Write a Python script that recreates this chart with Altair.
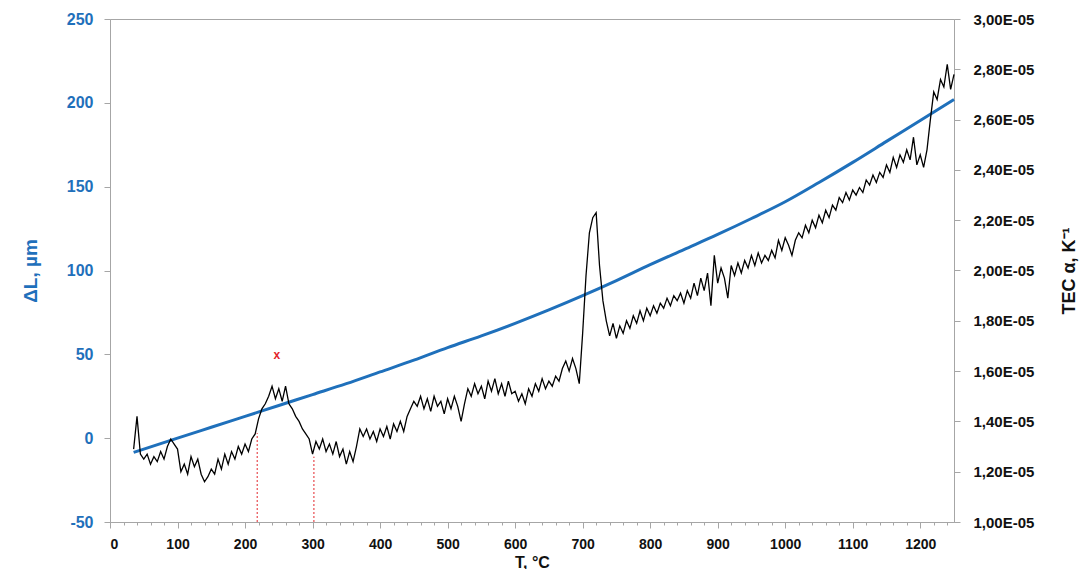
import altair as alt
import pandas as pd

# ---------------- data ----------------
# Blue curve: elongation ΔL (µm) vs temperature (°C)
T_DL = [35, 100, 150, 200, 250, 300, 350, 400, 450, 500, 550, 600, 650,
        700, 750, 800, 850, 900, 950, 1000, 1050, 1100, 1150, 1200, 1250]
DL = [-8.5, 0, 6.5, 13, 19.5, 26, 32.5, 39.5, 46.5, 54, 61, 68.5, 76.5,
      85, 94, 103.5, 112.5, 121.5, 131, 141, 152.5, 164.5, 177, 189.5, 202]

# Black curve: TEC α (in units of 1E-05 K^-1), sampled every 5 °C from 35 to 1250
T_TEC = list(range(35, 1255, 5))
TEC_E5 = [
    1.29, 1.42, 1.27,
    1.25, 1.27, 1.23, 1.26, 1.24, 1.28, 1.25, 1.30, 1.33, 1.31,
    1.29, 1.20, 1.23, 1.19, 1.26, 1.22, 1.25, 1.19, 1.16, 1.18,
    1.21, 1.19, 1.25, 1.21, 1.27, 1.23, 1.28, 1.25, 1.30, 1.27,
    1.31, 1.28, 1.33, 1.35, 1.41, 1.45, 1.47, 1.50, 1.54, 1.49,
    1.53, 1.48, 1.54, 1.47, 1.45, 1.42, 1.40, 1.37, 1.35, 1.33,
    1.27, 1.32, 1.29, 1.33, 1.28, 1.31, 1.27, 1.32, 1.26, 1.29,
    1.23, 1.28, 1.24, 1.30, 1.37, 1.34, 1.37, 1.33, 1.36, 1.32,
    1.37, 1.34, 1.38, 1.33, 1.39, 1.36, 1.40, 1.36, 1.42, 1.45,
    1.48, 1.46, 1.50, 1.45, 1.49, 1.44, 1.50, 1.46, 1.48, 1.43,
    1.49, 1.45, 1.50, 1.46, 1.40, 1.47, 1.53, 1.50, 1.55, 1.51,
    1.54, 1.49, 1.56, 1.52, 1.57, 1.51, 1.55, 1.50, 1.56, 1.51,
    1.52, 1.48, 1.51, 1.47, 1.53, 1.50, 1.55, 1.52, 1.57, 1.53,
    1.56, 1.54, 1.58, 1.56, 1.61, 1.64, 1.60, 1.65, 1.61, 1.55,
    1.75, 1.98, 2.15, 2.21, 2.23, 2.02, 1.88, 1.80, 1.74, 1.79,
    1.73, 1.78, 1.75, 1.80, 1.77, 1.82, 1.79, 1.84, 1.80, 1.85,
    1.82, 1.86, 1.83, 1.87, 1.85, 1.89, 1.86, 1.90, 1.88, 1.91,
    1.87, 1.92, 1.89, 1.95, 1.90, 1.97, 1.92, 1.99, 1.86, 2.06,
    1.95, 2.01, 1.97, 1.89, 2.02, 1.98, 2.03, 1.99, 2.04, 2.01,
    2.06, 2.02, 2.07, 2.03, 2.06, 2.04, 2.08, 2.05, 2.12, 2.08,
    2.13, 2.10, 2.06, 2.12, 2.15, 2.13, 2.18, 2.15, 2.20, 2.17,
    2.22, 2.19, 2.24, 2.21, 2.26, 2.24, 2.29, 2.27, 2.31, 2.28,
    2.32, 2.30, 2.33, 2.31, 2.36, 2.34, 2.38, 2.35, 2.39, 2.37,
    2.42, 2.39, 2.45, 2.41, 2.46, 2.43, 2.48, 2.44, 2.53, 2.42,
    2.46, 2.41, 2.48, 2.60, 2.71, 2.68, 2.76, 2.73, 2.82, 2.72,
    2.78,
]

# Red dotted markers (temperatures, top ends on the ΔL axis) and the red "x"
MARK_T = [218, 302]
MARK_BOTTOM = [-50, -50]
MARK_TOP = [3, -11]
X_LABEL_T = [247]
X_LABEL_DL = [49.5]
X_LABEL_TXT = ["x"]

# Axis tick values
X_MAJOR = [0, 100, 200, 300, 400, 500, 600, 700, 800, 900, 1000, 1100, 1200]
X_MINOR = list(range(0, 1260, 20))
Y_LEFT = [-50, 0, 50, 100, 150, 200, 250]
Y_RIGHT = [1.0e-5, 1.2e-5, 1.4e-5, 1.6e-5, 1.8e-5, 2.0e-5,
           2.2e-5, 2.4e-5, 2.6e-5, 2.8e-5, 3.0e-5]

# ---------------- chart ----------------
BLUE = "#1f70bb"
RED = "#e3262b"
GRAY = "#a6a6a6"
FONT = "Liberation Sans"
W, H = 844, 503

dl_df = pd.DataFrame({"T": T_DL, "DL": DL})
tec_df = pd.DataFrame({"T": T_TEC, "TEC": [v * 1e-5 for v in TEC_E5]})
mk_df = pd.DataFrame({"T": MARK_T, "y0": MARK_BOTTOM, "y1": MARK_TOP})
xl_df = pd.DataFrame({"T": X_LABEL_T, "DL": X_LABEL_DL, "txt": X_LABEL_TXT})

x_scale = alt.Scale(domain=[0, 1250], nice=False, zero=False)
yl_scale = alt.Scale(domain=[-50, 250], nice=False, zero=False)
yr_scale = alt.Scale(domain=[1.0e-5, 3.0e-5], nice=False, zero=False)

x_axis = alt.Axis(
    values=X_MAJOR, title="T, °C", grid=False, format="d",
    labelFont=FONT, labelFontSize=14, labelFontWeight="bold", labelColor="#111111",
    titleFont=FONT, titleFontSize=16, titleFontWeight="bold", titleColor="#111111",
    domainColor=GRAY, tickColor=GRAY, tickSize=6, labelPadding=9,
    titleY=40, titleBaseline="middle",
)
x_axis_minor = alt.Axis(
    values=X_MINOR, title=None, labels=False, domain=False, grid=False,
    tickColor=GRAY, tickSize=3, orient="bottom",
)
y_left_axis = alt.Axis(
    values=Y_LEFT, title="ΔL, µm", grid=False,
    labelExpr="datum.value + ''",
    labelFont=FONT, labelFontSize=16, labelFontWeight="bold", labelColor=BLUE,
    titleFont=FONT, titleFontSize=19, titleFontWeight="bold", titleColor=BLUE,
    domainColor=GRAY, tickColor=GRAY, tickSize=6, labelPadding=11,
    titleAngle=-90, titleX=-70, titleY=H / 2, titleAlign="center", titleBaseline="bottom",
)
y_right_axis = alt.Axis(
    orient="right", values=Y_RIGHT, title="TEC α, K⁻¹", grid=False,
    labelExpr="replace(format(datum.value * 100000, '.2f'), '.', ',') + 'E-05'",
    labelFont=FONT, labelFontSize=15, labelFontWeight="bold", labelColor="#111111",
    titleFont=FONT, titleFontSize=18, titleFontWeight="bold", titleColor="#111111",
    domainColor=GRAY, tickColor=GRAY, tickSize=6, labelPadding=13,
    titleAngle=-90, titleX=124, titleY=H / 2, titleAlign="center", titleBaseline="bottom",
)

blue = alt.Chart(dl_df).mark_line(color=BLUE, strokeWidth=3, interpolate="monotone").encode(
    x=alt.X("T:Q", scale=x_scale, axis=x_axis),
    y=alt.Y("DL:Q", scale=yl_scale, axis=y_left_axis),
)
rules = alt.Chart(mk_df).mark_rule(color=RED, strokeWidth=1, strokeDash=[2, 2]).encode(
    x="T:Q", y="y0:Q", y2="y1:Q",
)
xmark = alt.Chart(xl_df).mark_text(color=RED, font=FONT, fontSize=12, fontWeight="bold").encode(
    x="T:Q", y="DL:Q", text="txt:N",
)
left = alt.layer(rules, blue, xmark)

black = alt.Chart(tec_df).mark_line(color="black", strokeWidth=1.3).encode(
    x=alt.X("T:Q", scale=x_scale, axis=x_axis_minor),
    y=alt.Y("TEC:Q", scale=yr_scale, axis=y_right_axis),
)

chart = alt.layer(left, black).resolve_scale(
    x="independent", y="independent"
).properties(
    width=W, height=H,
    autosize=alt.AutoSizeParams(type="none"),
    padding={"left": 102, "top": 11, "right": 129, "bottom": 47},
    background="white",
).configure_view(stroke=GRAY, strokeWidth=1)

chart.save("out.html", embed_options={"renderer": "svg", "actions": False})
